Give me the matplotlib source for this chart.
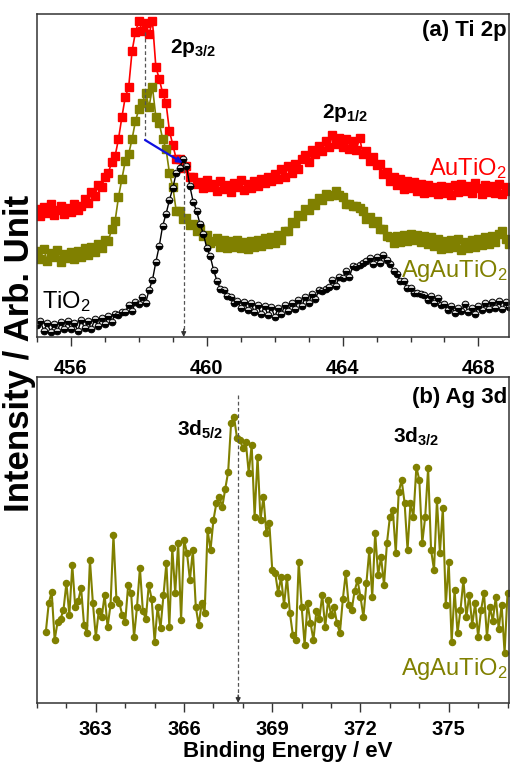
import numpy as np
import matplotlib
matplotlib.use("Agg")
import matplotlib.pyplot as plt

plt.rcParams['font.family'] = ['Liberation Sans', 'DejaVu Sans']
plt.rcParams['mathtext.fontset'] = 'custom'
plt.rcParams['mathtext.rm'] = 'Liberation Sans'
plt.rcParams['mathtext.bf'] = 'Liberation Sans:bold'
plt.rcParams['mathtext.it'] = 'Liberation Sans:italic'

# ---------------- data: (a) Ti 2p ----------------
ti_start, ti_step = 455.0, 0.1
au_tio2 = [128,121,130,124,133,122,127,131,123,129,
           125,133,127,131,138,134,145,141,152,150,
           160,164,175,181,198,220,240,250,286,305,
           316,306,314,303,316,270,258,244,234,206,
           192,178,178,169,171,160,160,153,155,149,
           157,150,153,146,156,148,152,145,154,150,
           157,147,153,149,156,151,158,154,160,156,
           163,158,168,160,171,164,173,168,178,182,
           175,187,183,191,186,196,190,202,193,199,
           190,198,188,196,187,199,183,186,176,180,
           172,173,163,165,156,160,152,158,148,156,
           149,155,146,153,144,152,145,150,143,151,
           144,150,142,152,145,153,146,151,144,154,
           149,143,152,145,151,144,153,143,150,146]
agau_tio2 = [86,78,88,76,84,80,87,75,83,79,
             85,78,86,80,89,82,90,85,93,89,
             97,96,108,116,140,158,176,183,198,216,
             228,234,244,230,250,220,214,198,188,164,
             150,126,126,118,119,112,113,106,108,101,
             102,94,96,99,90,97,89,96,90,97,
             89,95,88,96,90,97,91,99,93,100,
             94,102,97,106,106,115,114,122,121,128,
             127,134,132,139,137,143,141,142,146,142,
             140,133,133,131,131,129,126,118,120,114,
             116,108,108,101,100,94,101,95,102,96,
             103,97,102,95,101,93,100,91,98,88,
             96,89,97,90,98,87,95,89,97,90,
             98,92,100,93,101,95,103,106,98,93]
tio2 = [12,16,6,14,5,13,6,15,8,16,
        8,14,6,17,9,16,8,18,11,19,
        13,21,15,23,22,25,25,32,26,35,
        33,40,34,47,57,75,91,111,123,137,
        149,164,169,178,171,151,135,126,113,103,
        89,81,67,56,48,47,41,40,34,36,
        29,35,27,34,25,32,23,31,22,30,
        20,29,23,32,26,34,28,37,31,40,
        34,43,38,47,46,48,50,57,51,60,
        59,66,60,71,70,72,74,76,79,73,
        80,74,82,77,73,66,63,56,56,49,
        49,44,44,43,42,37,41,34,39,32,
        33,27,31,24,29,26,33,25,29,23,
        31,27,34,28,35,29,36,28,35,30]

# ---------------- data: (b) Ag 3d ----------------
ag_start, ag_step = 361.3, 0.1
ag3d = [71,100,111,63,81,84,93,120,88,138,
        96,102,115,78,70,143,100,66,92,86,
        108,76,98,168,104,100,88,81,118,110,
        66,96,135,92,84,118,104,61,96,75,
        108,140,76,155,110,160,83,163,150,123,
        153,96,78,100,90,173,153,183,200,206,
        196,214,231,280,286,265,263,255,261,230,
        258,186,246,183,206,170,180,133,130,110,
        126,98,126,90,68,63,141,96,58,100,
        80,63,92,84,108,76,103,88,96,80,
        70,104,130,98,93,112,123,106,86,120,
        153,106,170,128,146,118,160,186,193,150,
        211,223,200,153,200,186,236,223,160,186,
        235,153,133,203,150,195,98,141,61,113,
        70,93,123,86,108,78,100,66,93,110,
        66,96,82,106,74,98,50,110]

ti_x = np.round(ti_start + ti_step * np.arange(len(au_tio2)), 2)
ag_x = np.round(ag_start + ag_step * np.arange(len(ag3d)), 2)

ti_ticks = [456, 460, 464, 468]
ag_ticks = [363, 366, 369, 372, 375]

red = '#ff0000'
olive = '#808000'

fig = plt.figure(figsize=(5.12, 7.63), dpi=100)
ax1 = fig.add_axes([37/512, 1-337/763, 472/512, 323/763])
ax2 = fig.add_axes([37/512, 1-703/763, 472/512, 326/763])

for ax, pad in ((ax1, 9), (ax2, 5.5)):
    for s in ax.spines.values():
        s.set_linewidth(1.1)
        s.set_color('#333333')
    ax.set_yticks([])
    ax.tick_params(axis='x', which='major', direction='out', length=6.5, width=1.0,
                   pad=pad, labelsize=14.5, color='#333333')
    ax.tick_params(axis='x', which='minor', direction='out', length=3.6, width=1.0,
                   color='#333333')

# ---- panel (a)
ax1.plot(ti_x, au_tio2, '-s', color=red, ms=5.8, lw=1.2, mec=red)
ax1.plot(ti_x, agau_tio2, '-s', color=olive, ms=5.8, lw=1.2, mec=olive)
ax1.plot(ti_x, tio2, '-o', color='black', ms=4.8, lw=1.0, mec='black', mew=0.7,
         fillstyle='top', markerfacecolor='#d0d0d0', markerfacecoloralt='black')
ax1.set_xlim(455.0, 468.9)
ax1.set_ylim(0, 323)
ax1.set_xticks(ti_ticks)
ax1.set_xticks(np.arange(455, 469, 1), minor=True)
ax1.set_xticklabels([str(t) for t in ti_ticks], fontweight='bold')

ax1.plot([458.18, 458.18], [305, 197], ls=(0, (3, 2)), color='#555555', lw=0.9)
ax1.annotate('', xy=(459.29, 174), xytext=(458.18, 197),
             arrowprops=dict(arrowstyle='-|>', color='#1010e0', lw=1.6, mutation_scale=8,
                             shrinkA=0, shrinkB=0))
ax1.plot([459.32, 459.32], [174, 6], ls=(0, (3, 2)), color='#555555', lw=0.9)
ax1.annotate('', xy=(459.32, 0), xytext=(459.32, 8),
             arrowprops=dict(arrowstyle='-|>', color='#333333', lw=0.9, mutation_scale=7,
                             shrinkA=0, shrinkB=0))

ax1.text(0.996, 0.950, '(a) Ti 2p', transform=ax1.transAxes, ha='right', va='center',
         fontsize=16, fontweight='bold')
ax1.text(458.91, 289, r'$\mathbf{2p_{3/2}}$', ha='left', va='center', fontsize=15)
ax1.text(463.38, 224, r'$\mathbf{2p_{1/2}}$', ha='left', va='center', fontsize=15)
ax1.text(468.82, 162, r'AuTiO$_2$', ha='right', va='baseline', fontsize=17, color=red)
ax1.text(468.85, 60, r'AgAuTiO$_2$', ha='right', va='baseline', fontsize=17, color=olive)
ax1.text(455.15, 29, r'TiO$_2$', ha='left', va='baseline', fontsize=17, color='black')

# ---- panel (b)
ax2.plot(ag_x, ag3d, '-o', color=olive, ms=4.4, lw=1.5, mec=olive)
ax2.set_xlim(361.0, 377.05)
ax2.set_ylim(0, 326)
ax2.set_xticks(ag_ticks)
ax2.set_xticks(np.arange(361, 378, 1), minor=True)
ax2.set_xticklabels([str(t) for t in ag_ticks], fontweight='bold')

ax2.plot([367.84, 367.84], [308, 6], ls=(0, (3, 2)), color='#555555', lw=0.9)
ax2.annotate('', xy=(367.84, 0), xytext=(367.84, 8),
             arrowprops=dict(arrowstyle='-|>', color='#333333', lw=0.9, mutation_scale=7,
                             shrinkA=0, shrinkB=0))

ax2.text(0.996, 0.936, '(b) Ag 3d', transform=ax2.transAxes, ha='right', va='center',
         fontsize=16, fontweight='bold')
ax2.text(365.76, 273, r'$\mathbf{3d_{5/2}}$', ha='left', va='center', fontsize=15)
ax2.text(373.11, 266, r'$\mathbf{3d_{3/2}}$', ha='left', va='center', fontsize=15)
ax2.text(377.0, 28, r'AgAuTiO$_2$', ha='right', va='baseline', fontsize=17, color=olive)

fig.text(288/512, 1-752/763, 'Binding Energy / eV', ha='center', va='center',
         fontsize=16, fontweight='bold')
fig.text(20/512, 1-353/763, 'Intensity / Arb. Unit', ha='center', va='center',
         rotation=90, fontsize=25, fontweight='bold')

fig.savefig('out.png', dpi=100)
